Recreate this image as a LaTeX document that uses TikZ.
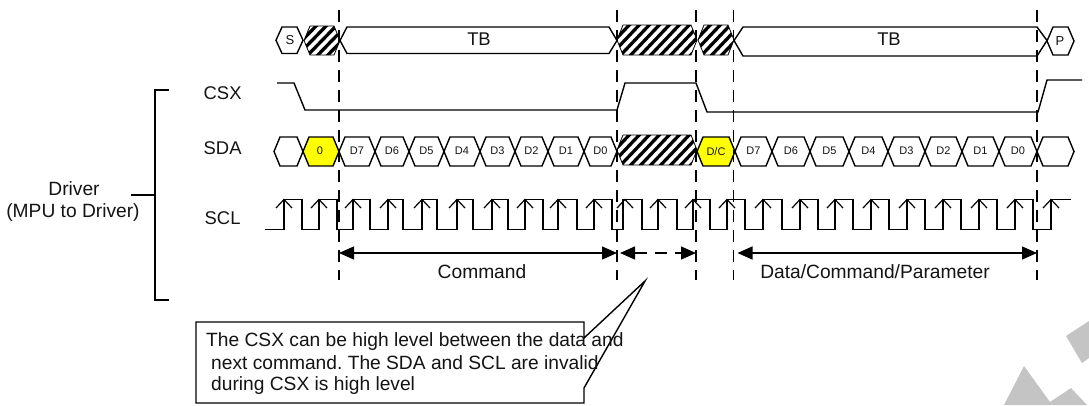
\documentclass[tikz,border=0pt]{standalone}
\usepackage{fontspec}
\setmainfont{Liberation Sans}
\usetikzlibrary{arrows.meta}
\frenchspacing
\newcommand{\hexline}[5]{\draw[wave,#5] (#1,#3+#4/2) -- (#1+6,#3) -- (#2-6,#3) -- (#2,#3+#4/2) -- (#2-6,#3+#4) -- (#1+6,#3+#4) -- cycle;}
\newcommand{\hatchhex}[4]{%
  \fill[white] (#1,#3+#4/2) -- (#1+6,#3) -- (#2-6,#3) -- (#2,#3+#4/2) -- (#2-6,#3+#4) -- (#1+6,#3+#4) -- cycle;
  \begin{scope}
    \clip (#1,#3+#4/2) -- (#1+6,#3) -- (#2-6,#3) -- (#2,#3+#4/2) -- (#2-6,#3+#4) -- (#1+6,#3+#4) -- cycle;
    \foreach \k in {-30,-20,...,120}{\draw[black,line width=3.3pt] (#1+\k,#3+#4+4) -- (#1+\k+36,#3-4);}
  \end{scope}
  \draw[line width=0.8pt,draw=black] (#1,#3+#4/2) -- (#1+6,#3) -- (#2-6,#3) -- (#2,#3+#4/2) -- (#2-6,#3+#4) -- (#1+6,#3+#4) -- cycle;}
\definecolor{hiyellow}{RGB}{255,255,0}
\definecolor{wm}{RGB}{196,196,196}
\definecolor{ink}{RGB}{20,20,20}
\tikzset{
  wave/.style={line width=1.4pt,draw=black,line join=miter},
  guide/.style={line width=1.3pt,draw=black,dash pattern=on 12pt off 8pt},
  span/.style={line width=1.3pt,draw=black,{Triangle[length=15pt,width=13pt]}-{Triangle[length=15pt,width=13pt]}},
  big/.style={font=\fontsize{19.2}{21}\selectfont,text=ink,inner sep=0pt},
  lab/.style={font=\fontsize{18.4}{21}\selectfont,text=ink,inner sep=0pt},
  small/.style={font=\fontsize{11}{13}\selectfont,text=ink,inner sep=0pt},
  mid/.style={font=\fontsize{13}{15}\selectfont,text=ink,inner sep=0pt},
}
\begin{document}
\begin{tikzpicture}[x=1pt,y=-1pt]
\useasboundingbox (0,0) rectangle (1089,405);
\fill[white] (0,0) rectangle (1089,405);
% watermark
\fill[wm] (1066,336) -- (1089,321) -- (1089,358) -- (1082,363) -- cycle;
\fill[wm] (1024,366) -- (1050,402) -- (1071,388) -- (1087,405) -- (1004,405) -- cycle;
% bracket
\coordinate (brT) at (169,90);
\coordinate (brB) at (169,300);
\coordinate (brM) at (155,195);
\coordinate (brL) at (131,195);
\draw[wave] (brT) -- (155,90) -- (155,300) -- (brB);
\draw[wave] (brL) -- (brM);
\node[big] (driver) at (74,189) {Driver};
\node[big] (mpu) at (73,213) {(MPU to Driver)};
\node[lab,anchor=west] (csx) at (203.5,93) {CSX};
\node[lab,anchor=west] (sda) at (203.5,148) {SDA};
\node[lab,anchor=west] (scl) at (204.5,218) {SCL};
% top row
\hexline{276}{303}{27}{26.5}{}
\node[mid] (tS) at (290,40.5) {S};
\hatchhex{304}{340}{26}{29}
\draw[wave] (340,40.5) -- (347,27) -- (609,27) -- (617,40.5) -- (609,53.5) -- (347,53.5) -- cycle;
\node[lab] (tb1) at (479,39.5) {TB};
\hatchhex{617}{697}{25}{30}
\hatchhex{698}{734}{25}{30}
\draw[wave] (734,40.5) -- (743,27) -- (1037,27) -- (1047,40.5) -- (1037,56) -- (743,56) -- cycle;
\node[lab] (tb2) at (889,39.5) {TB};
\hexline{1047}{1074}{27}{28}{}
\node[mid] (tP) at (1060,41) {P};
% CSX
\draw[wave] (277,83) -- (294,83) -- (305,110) -- (617,110) -- (625,83) -- (696,83) -- (707,112) -- (1038,112) -- (1047,80) -- (1082,80);
% SDA
\hexline{274}{303}{137}{29}{}
\hexline{303}{339}{137}{29}{fill=hiyellow}
\node[small] (b0) at (320,151) {0};
\foreach \a/\b/\t in {339/375/D7,375/409/D6,409/444/D5,444/480/D4,480/515/D3,515/548/D2,548/584/D1,584/617/D0,735/772/D7,772/810/D6,810/849/D5,849/888/D4,888/925/D3,925/962/D2,962/999/D1,999/1037/D0}{
  \hexline{\a}{\b}{137}{29}{}
  \node[small] (bit\a) at ({(\a+\b)/2},151) {\t};
}
\hatchhex{617}{697}{135}{30}
\hexline{697}{735}{137}{29}{fill=hiyellow}
\node[small] (bDC) at (716,151.5) {D/C};
\hexline{1037}{1074}{137}{29}{}
% SCL
\draw[wave] (265,229.5) -| (284,199.5) -| (302,229.5) -| (319,199.5) -| (337,229.5) -| (353,199.5) -| (370,229.5) -| (388,199.5) -| (403,229.5) -| (422,199.5) -| (437,229.5) -| (457,199.5) -| (473,229.5) -| (492,199.5) -| (508,229.5) -| (525,199.5) -| (543,229.5) -| (558,199.5) -| (577,229.5) -| (594,199.5) -| (612,229.5) -| (623,199.5) -| (642,229.5) -| (658,199.5) -| (677,229.5) -| (693,199.5) -| (710,229.5) -| (727,199.5) -| (745,229.5) -| (763,199.5) -| (782,229.5) -| (800,199.5) -| (818,229.5) -| (835,199.5) -| (853,229.5) -| (871,199.5) -| (889,229.5) -| (907,199.5) -| (925,229.5) -| (943,199.5) -| (961,229.5) -| (979,199.5) -| (997,229.5) -| (1015,199.5) -| (1033,229.5) -| (1051,199.5) -- (1071,199.5);
\foreach \r in {284,319,353,388,422,457,492,525,558,594,625,658,693,727,763,800,835,871,907,943,979,1015,1051}{
  \draw[line width=1.2pt,draw=black] (\r-8,208) -- (\r,199.5) -- (\r+8,208);
}
% guides
\foreach \n/\x in {ga/339,gb/617,gc/696,gd/733.5,ge/1037}{
  \coordinate (\n T) at (\x,10);
  \coordinate (\n B) at (\x,280);
  \coordinate (\n M) at (\x,253);
  \draw[guide] (\n T) -- (\n B);
}
% spans
\draw[span] (gaM) -- (gbM);
\draw[span,dash pattern=on 12pt off 8pt] ([xshift=3pt]gbM) -- (gcM);
\draw[span] ([xshift=4pt]gdM) -- (geM);
\node[big] (cmd) at (482,272) {Command};
\node[big] (dcp) at (875,272) {Data/Command/Parameter};
% callout
\coordinate (tip) at (645,281);
\draw[line width=1.4pt,draw=black,fill=white] (196,322) -- (584,322) -- (584,338) -- (tip) -- (584,388) -- (584,403) -- (196,403) -- cycle;
\node[big,anchor=west] (n1) at (206,342) {The CSX can be high level between the data and};
\node[big,anchor=west] (n2) at (211,363) {next command. The SDA and SCL are invalid};
\node[big,anchor=west] (n3) at (211,386) {during CSX is high level};
\end{tikzpicture}
\end{document}
